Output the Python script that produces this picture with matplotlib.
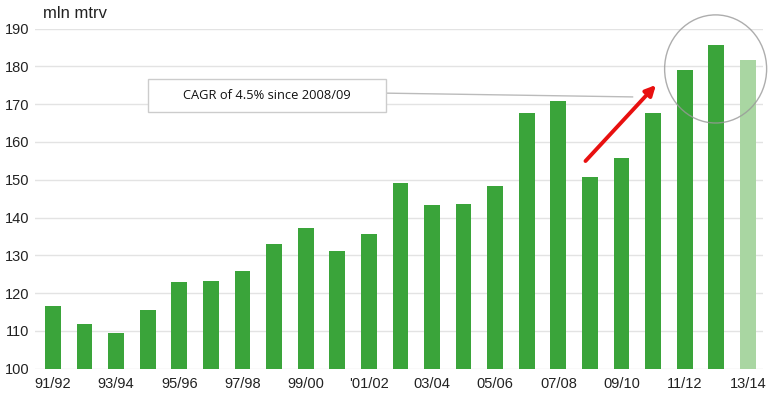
import matplotlib
matplotlib.use("Agg")
import matplotlib.pyplot as plt
from matplotlib.patches import Ellipse, FancyArrowPatch, Rectangle

seasons = ["91/92", "92/93", "93/94", "94/95", "95/96", "96/97", "97/98", "98/99",
           "99/00", "00/01", "'01/02", "02/03", "03/04", "04/05", "05/06", "06/07",
           "07/08", "08/09", "09/10", "10/11", "11/12", "12/13", "13/14"]
values = [116.5, 111.9, 109.4, 115.6, 123.0, 123.3, 125.9, 133.0,
          137.2, 131.1, 135.7, 149.0, 143.4, 143.6, 148.3, 167.6,
          170.7, 150.8, 155.8, 167.7, 179.0, 185.6, 181.7]
is_estimate = [False] * 22 + [True]
tick_labels = ["91/92", "93/94", "95/96", "97/98", "99/00", "'01/02",
               "03/04", "05/06", "07/08", "09/10", "11/12", "13/14"]
yticks = [100, 110, 120, 130, 140, 150, 160, 170, 180, 190]

plt.rcParams['font.family'] = ['Liberation Sans', 'DejaVu Sans']

W, H = 770, 397
fig = plt.figure(figsize=(W / 100, H / 100), dpi=100)
ax = fig.add_axes([35 / W, (H - 368.7) / H, (763 - 35) / W, (368.7 - 28.5) / H])

x = list(range(len(values)))
colors = ["#A9D6A2" if e else "#3AA43A" for e in is_estimate]
ax.bar(x, [v - 100 for v in values], bottom=100, width=0.5, color=colors, zorder=2)

ax.set_ylim(100, 190)
ax.set_xlim(-0.57, 22.48)
ax.set_yticks(yticks)
ax.set_yticklabels([str(t) for t in yticks], fontsize=10.5)
ax.set_xticks(range(0, 23, 2))
ax.set_xticklabels(tick_labels, fontsize=10.5)
ax.tick_params(axis='both', length=0, colors='#222222')
ax.tick_params(axis='y', pad=4)
ax.tick_params(axis='x', pad=6)
for s in ax.spines.values():
    s.set_visible(False)
ax.grid(axis='y', color='#E3E3E3', lw=1, zorder=0)
ax.set_axisbelow(True)

fig.text(43 / W, 1 - 14 / H, "mln mtrv", fontsize=12, va='center', ha='left', color='#222222')

# annotation box with connector
ax.plot([10.54, 18.35], [172.9, 171.9], color='#BBBBBB', lw=1, zorder=3)
ax.add_patch(Rectangle((3.0, 167.9), 7.54, 8.7, fc='white', ec='#CCCCCC', lw=1, zorder=4))
ax.text(6.77, 172.3, "CAGR of 4.5% since 2008/09", fontsize=9.3, ha='center', va='center',
        family=['Open Sans', 'DejaVu Sans'], color='#111111', zorder=5)

# red arrow
arr = FancyArrowPatch((16.8, 154.4), (19.15, 175.6), arrowstyle='-|>', mutation_scale=15,
                      color='#E81010', lw=2.8, zorder=5)
ax.add_patch(arr)

# circle
ell = Ellipse((20.98, 179.3), width=3.23, height=28.6, fill=False, ec='#999999', lw=1,
              zorder=6, clip_on=False, alpha=0.8)
ax.add_patch(ell)

fig.savefig("out.png", dpi=100)
